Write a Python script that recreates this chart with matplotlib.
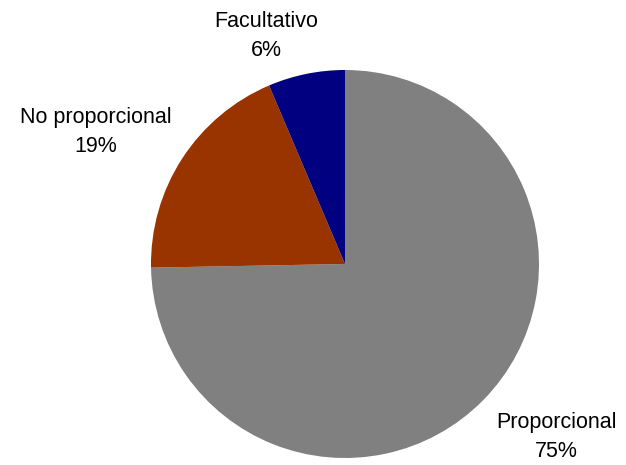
import numpy as np
from matplotlib import pyplot as plt

# slice data, clockwise from 12 o'clock
labels = ['Proporcional', 'No proporcional', 'Facultativo']
values = [74.7, 18.9, 6.4]
colors = ['#808080', '#993300', '#000080']

plt.rcParams['font.family'] = ['Liberation Sans', 'DejaVu Sans']

fig = plt.figure(figsize=(6.26, 4.65), dpi=100)
ax = fig.add_axes([0, 0, 1, 1])

ax.pie(values, colors=colors, startangle=90, counterclock=False,
       center=(345, 201), radius=194, frame=True,
       wedgeprops=dict(linewidth=0))
ax.set_xlim(0, 626)
ax.set_ylim(0, 465)
ax.axis('off')

# label positions (pixel coords, y up)
label_pos = [(556, 28), (96, 333), (266, 429)]
for lab, val, (x, y) in zip(labels, values, label_pos):
    ax.text(x, y, '%s\n%d%%' % (lab, round(val)), ha='center', va='center',
            fontsize=15.5, linespacing=1.45, color='black')

fig.savefig('out.png', dpi=100)
